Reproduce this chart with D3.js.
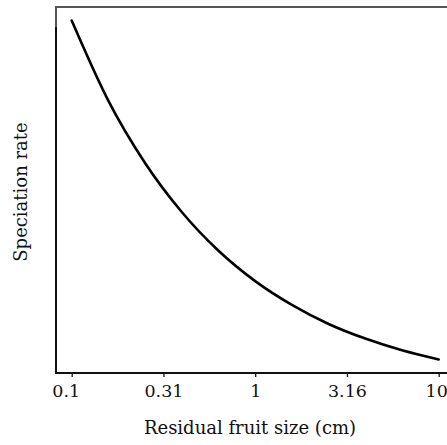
<!DOCTYPE html>
<html>
<head>
<meta charset="utf-8">
<script src="https://d3js.org/d3.v7.min.js"></script>
<style>
  html, body { margin: 0; padding: 0; background: #fff; }
  svg { display: block; }
  text { font-family: "DejaVu Serif", serif; fill: #111; }
</style>
</head>
<body>
<script>
// Data
const fruitSize = [0.1, 0.158, 0.251, 0.398, 0.631, 1, 1.585, 2.512, 3.981, 6.31, 10];
const speciationRate = [0.963, 0.745, 0.574, 0.440, 0.334, 0.251, 0.186, 0.134, 0.094, 0.062, 0.037];
const tickValues = [0.1, 0.316228, 1, 3.16228, 10];
const tickLabels = ["0.1", "0.31", "1", "3.16", "10"];
const xTitle = "Residual fruit size (cm)";
const yTitle = "Speciation rate";

(function () {
const W = 447, H = 445;
const svg = d3.select("body").append("svg").attr("width", W).attr("height", H);

const x = d3.scaleLog().domain([0.1, 10]).range([71.7, 438.7]);
const y = d3.scaleLinear().domain([0, 1]).range([373, 7]);

const pLeft = 56, pTop = 7, pBottom = 373, pRight = 453;

// frame (gray)
svg.append("rect")
  .attr("x", pLeft).attr("y", pTop)
  .attr("width", pRight - pLeft).attr("height", pBottom - pTop)
  .attr("fill", "none").attr("stroke", "#555").attr("stroke-width", 2);

// left axis line (black)
svg.append("line")
  .attr("x1", pLeft).attr("x2", pLeft)
  .attr("y1", 27).attr("y2", pBottom + 1)
  .attr("stroke", "#111").attr("stroke-width", 2);

// bottom axis
const xAxis = d3.axisBottom(x)
  .tickValues(tickValues)
  .tickFormat((d, i) => tickLabels[i])
  .tickSizeInner(4).tickSizeOuter(0).tickPadding(8);

const gx = svg.append("g").attr("transform", `translate(0,${pBottom})`).call(xAxis);
gx.select(".domain").attr("d", `M${pLeft},0H${W}`).attr("stroke", "#111").attr("stroke-width", 2);
gx.selectAll(".tick line").attr("stroke", "#111").attr("stroke-width", 1.3);
gx.selectAll(".tick text")
  .attr("font-family", "DejaVu Serif")
  .attr("font-size", 17.5).attr("fill", "#111")
  .attr("dx", (d, i) => i === 0 ? -6 : (i === tickValues.length - 1 ? -2.5 : 0));

// curve
const line = d3.line()
  .x((d, i) => x(fruitSize[i]))
  .y((d, i) => y(speciationRate[i]))
  .curve(d3.curveMonotoneX);

svg.append("path")
  .datum(speciationRate)
  .attr("d", line)
  .attr("fill", "none")
  .attr("stroke", "#000")
  .attr("stroke-width", 2.6)
  .attr("stroke-linecap", "round");

// titles
svg.append("text")
  .attr("x", 250).attr("y", 434)
  .attr("text-anchor", "middle")
  .attr("font-size", 18)
  .text(xTitle);

svg.append("text")
  .attr("transform", `translate(27,${(pTop + pBottom) / 2 + 2}) rotate(-90)`)
  .attr("text-anchor", "middle")
  .attr("font-size", 18)
  .text(yTitle);
})();
</script>
</body>
</html>
